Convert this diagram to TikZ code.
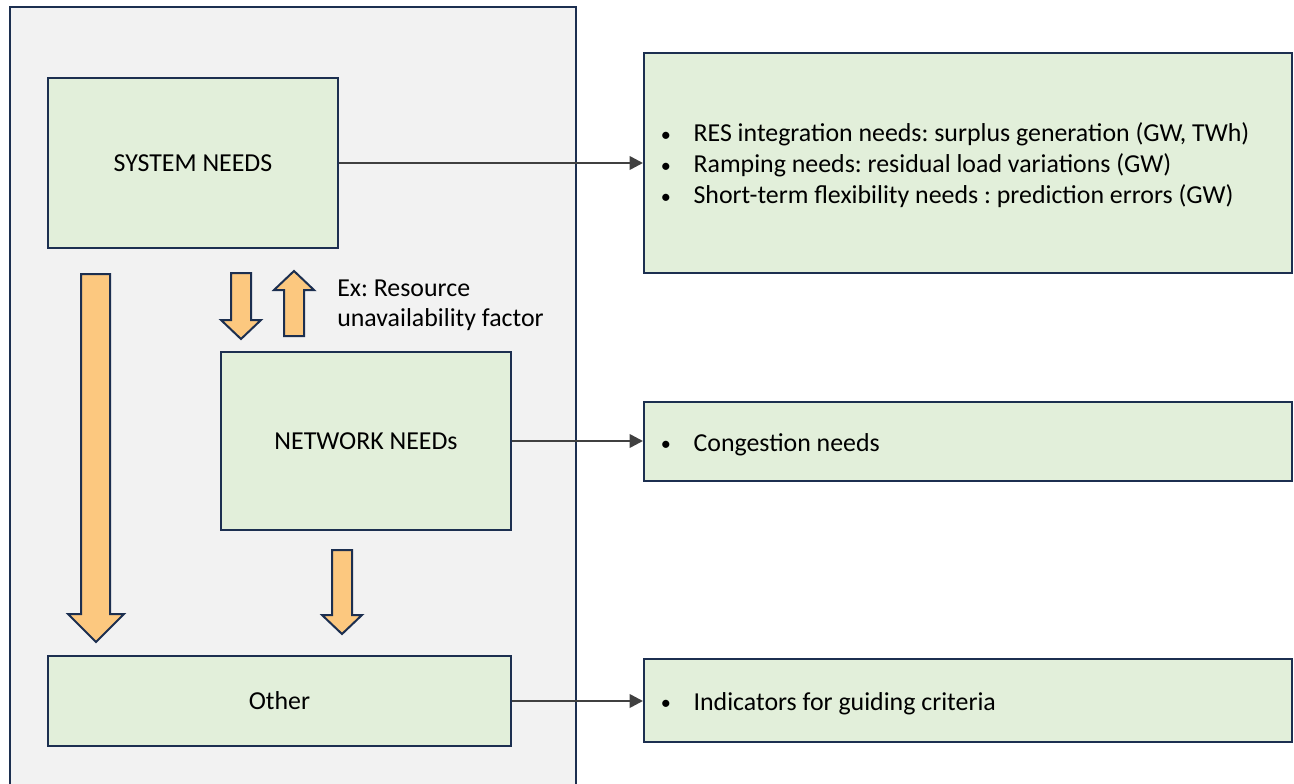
\documentclass[tikz,border=0pt]{standalone}
\usepackage{fontspec}
\setmainfont{Carlito}
\usetikzlibrary{arrows.meta}
\definecolor{navy}{HTML}{1C2F50}
\definecolor{panelgrey}{HTML}{F2F2F2}
\definecolor{boxgreen}{HTML}{E2EFDA}
\definecolor{arrorange}{HTML}{FCC87F}
\definecolor{conngrey}{HTML}{404040}
\newcommand{\mybul}{\makebox[25pt][l]{\hspace{0.5pt}\raisebox{0.6pt}{\scalebox{0.78}{\textbullet}}}}
\begin{document}
\frenchspacing
\begin{tikzpicture}[x=0.75pt,y=-0.75pt,
  every node/.style={font=\fontsize{19.4}{23.6}\selectfont, text=black},
  panel/.style={draw=navy, fill=panelgrey, line width=1.5pt},
  greenbox/.style={draw=navy, fill=boxgreen, line width=1.5pt, inner sep=0pt},
  blockarr/.style={draw=navy, fill=arrorange, line width=1.5pt, line join=miter},
  conn/.style={draw=conngrey, line width=1.9pt, -{Triangle[length=10pt,width=10pt]}},
  txt/.style={inner sep=0pt, anchor=base west}
]
\useasboundingbox (0,0) rectangle (1294,784);
% grey panel
\draw[panel] (10,7) rectangle (576,800);
% left boxes
\node[greenbox, minimum width=217.5pt, minimum height=127.5pt] (sys) at (193,163) {SYSTEM NEEDS};
\node[greenbox, minimum width=217.5pt, minimum height=133.5pt] (net) at (366,441) {NETWORK NEEDs};
\node[greenbox, minimum width=347.25pt, minimum height=67.5pt] (oth) at (279.5,701) {Other};
% right boxes
\node[greenbox, minimum width=486pt, minimum height=165pt] (res) at (968,163) {};
\node[greenbox, minimum width=486pt, minimum height=59.25pt] (cong) at (968,441.5) {};
\node[greenbox, minimum width=486pt, minimum height=62.25pt] (ind) at (968,700.5) {};
% texts in right boxes
\node[txt] (r1) at (660,142) {\mybul RES integration needs: surplus generation (GW, TWh)};
\node[txt] (r2) at (660,173) {\mybul Ramping needs: residual load variations (GW)};
\node[txt] (r3) at (660,204) {\mybul Short-term flexibility needs : prediction errors (GW)};
\node[txt] (c1) at (660,451) {\mybul Congestion needs};
\node[txt] (i1) at (660,710) {\mybul Indicators for guiding criteria};
% side note
\node[txt] (ex1) at (337,296) {Ex: Resource};
\node[txt] (ex2) at (337,326.5) {unavailability factor};
% connectors
\draw[conn] (sys.east) -- (sys.east -| res.west);
\draw[conn] (net.east) -- (net.east -| cong.west);
\draw[conn] (oth.east) -- (oth.east -| ind.west);
% block arrows
\draw[blockarr] (81,274) -- (110,274) -- (110,614) -- (124,614) -- (96,642) -- (68,614) -- (81,614) -- cycle;
\draw[blockarr] (231,273) -- (251,273) -- (251,320) -- (261,320) -- (241,339) -- (221,320) -- (231,320) -- cycle;
\draw[blockarr] (284,336) -- (304,336) -- (304,290) -- (314,290) -- (294,271) -- (274,290) -- (284,290) -- cycle;
\draw[blockarr] (332,550) -- (352,550) -- (352,615) -- (362,615) -- (342,634) -- (322,615) -- (332,615) -- cycle;
\end{tikzpicture}
\end{document}
